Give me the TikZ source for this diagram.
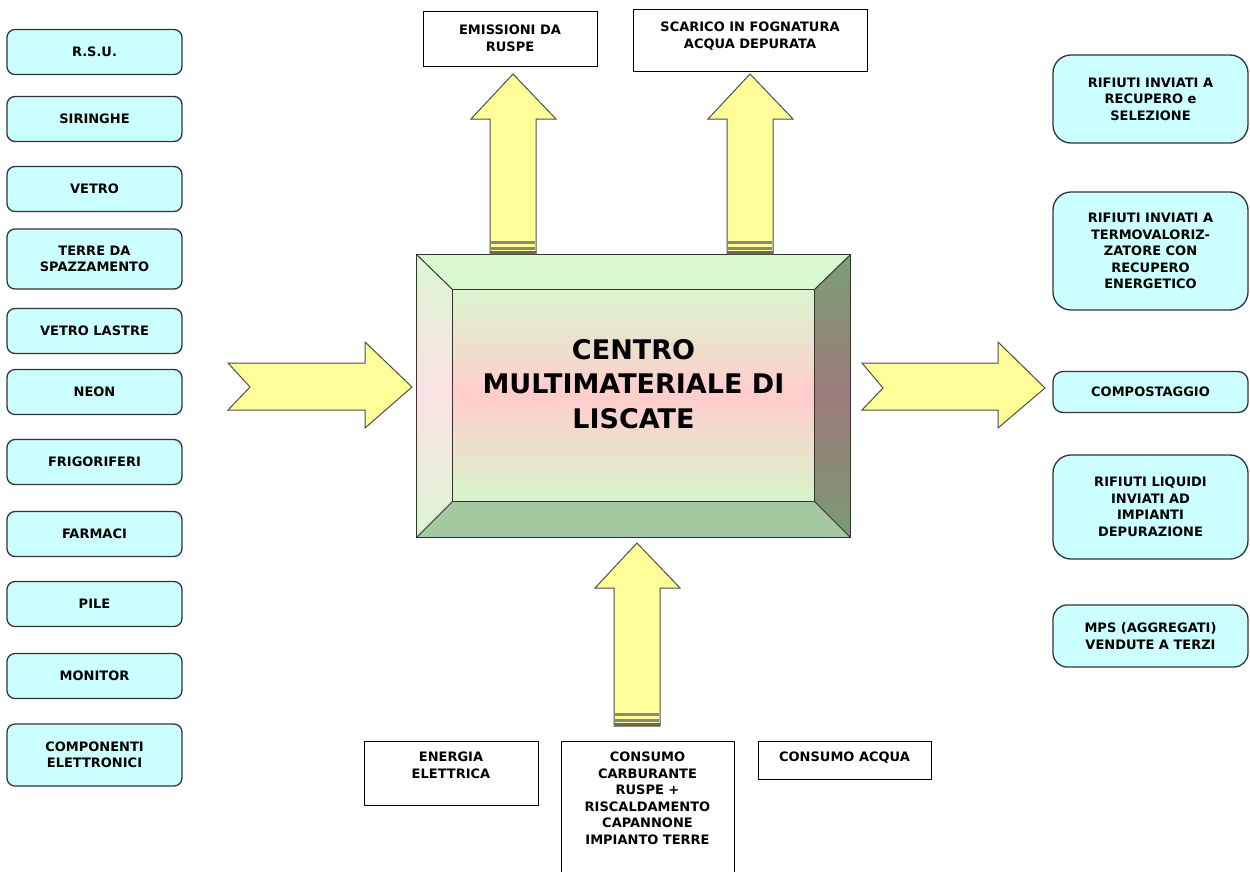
\documentclass[tikz,border=0pt]{standalone}
\usepackage{fontspec}
\setmainfont{DejaVu Sans}
\usetikzlibrary{positioning}
\definecolor{boxcyan}{HTML}{CCFFFF}
\definecolor{boxedge}{HTML}{333333}
\definecolor{arrowyellow}{HTML}{FFFF99}
\definecolor{arrowedge}{HTML}{4D4D4D}
\definecolor{stripegray}{HTML}{8A8A6E}
\definecolor{stripedark}{HTML}{6B6B45}
\definecolor{bevtop}{HTML}{D8F8D0}
\definecolor{bevleftend}{HTML}{DCF8D6}
\definecolor{bevleftmid}{HTML}{FCE2E2}
\definecolor{bevrighttop}{HTML}{7C9E76}
\definecolor{bevrightmid}{HTML}{9C7B7B}
\definecolor{bevrightbot}{HTML}{7A9A74}
\definecolor{bevbottom}{HTML}{A4C8A0}
\definecolor{coretop}{HTML}{DCF5D0}
\definecolor{coremid}{HTML}{FFCCCC}
\definecolor{corebot}{HTML}{D8F5CC}
\newcommand{\lblfont}{\fontsize{13}{16.5}\selectfont\bfseries}
\newcommand{\titlefont}{\fontsize{27}{34.5}\selectfont\bfseries}
% freccia verso l'alto: #1 = x centro, #2 = y punta, #3 = y base
\newcommand{\uparr}[3]{%
  \filldraw[blockarrow] (#1-23,#3) -- (#1-23,#2+45) -- (#1-42,#2+45) -- (#1,#2)
     -- (#1+43,#2+45) -- (#1+23,#2+45) -- (#1+23,#3) -- cycle;
  \draw[stripegray, line width=3pt] (#1-22,#3-12) -- (#1+22,#3-12);
  \draw[stripegray, line width=3pt] (#1-22,#3-6) -- (#1+22,#3-6);
  \fill[stripedark] (#1-23,#3-3) rectangle (#1+23,#3);}
\begin{document}
\begin{tikzpicture}[x=1pt,y=-1pt]
\tikzstyle{inbox} = [draw=boxedge, line width=1.3pt, fill=boxcyan, rounded corners=8pt, minimum width=175pt, minimum height=45pt, align=center, font=\lblfont] % rifiuti in ingresso
\tikzstyle{outbox} = [draw=boxedge, line width=1.3pt, fill=boxcyan, rounded corners=18pt, minimum width=195pt, align=center, font=\lblfont] % destinazioni in uscita
\tikzstyle{wbox} = [draw=black, line width=1pt, fill=white, inner sep=0pt] % riquadri bianchi
\tikzstyle{lbl} = [align=center, font=\lblfont, inner sep=0pt] % testo dei riquadri bianchi
\tikzstyle{blockarrow} = [fill=arrowyellow, draw=arrowedge, line width=1pt, line join=miter] % frecce gialle
\tikzstyle{frame} = [shape=rectangle, inner sep=0pt] % contorni del centro

\useasboundingbox (0,0) rectangle (1250,871);

% ingressi
\node[inbox] (rsu) at (94.5,52) {R.S.U.};
\node[inbox] (siringhe) at (94.5,119) {SIRINGHE};
\node[inbox] (vetro) at (94.5,189) {VETRO};
\node[inbox, minimum height=60pt] (terre) at (94.5,259) {TERRE DA\\SPAZZAMENTO};
\node[inbox] (lastre) at (94.5,331) {VETRO LASTRE};
\node[inbox] (neon) at (94.5,392) {NEON};
\node[inbox] (frigo) at (94.5,462) {FRIGORIFERI};
\node[inbox] (farmaci) at (94.5,534) {FARMACI};
\node[inbox] (pile) at (94.5,604) {PILE};
\node[inbox] (monitor) at (94.5,676) {MONITOR};
\node[inbox, minimum height=62pt] (componenti) at (94.5,755) {COMPONENTI\\ELETTRONICI};

% uscite
\node[outbox, minimum height=88pt] (recupero) at (1150.5,99) {RIFIUTI INVIATI A\\RECUPERO e\\SELEZIONE};
\node[outbox, minimum height=118pt] (termo) at (1150.5,251) {RIFIUTI INVIATI A\\TERMOVALORIZ-\\ZATORE CON\\RECUPERO\\ENERGETICO};
\node[outbox, minimum height=41pt, rounded corners=10pt] (compost) at (1150.5,392) {COMPOSTAGGIO};
\node[outbox, minimum height=104pt] (liquidi) at (1150.5,507) {RIFIUTI LIQUIDI\\INVIATI AD\\IMPIANTI\\DEPURAZIONE};
\node[outbox, minimum height=62pt, rounded corners=14pt] (mps) at (1150.5,636) {MPS (AGGREGATI)\\VENDUTE A TERZI};

% emissioni e consumi
\node[wbox, minimum width=174pt, minimum height=55pt] (emissioni) at (510,38.5) {};
\node[lbl, anchor=north] (emissionitxt) at (emissioni.north |- 0,25) {EMISSIONI DA\\RUSPE};
\node[wbox, minimum width=234pt, minimum height=62pt] (scarico) at (750,40) {};
\node[lbl, anchor=north] (scaricotxt) at (scarico.north |- 0,22) {SCARICO IN FOGNATURA\\ACQUA DEPURATA};
\node[wbox, minimum width=174pt, minimum height=64pt] (energia) at (451,773) {};
\node[lbl, anchor=north] (energiatxt) at (energia.north |- 0,752) {ENERGIA\\ELETTRICA};
\node[wbox, minimum width=173pt, minimum height=135pt] (carburante) at (647.5,808.5) {};
\node[lbl, anchor=north] (carburantetxt) at (carburante.north |- 0,752) {CONSUMO\\CARBURANTE\\RUSPE +\\RISCALDAMENTO\\CAPANNONE\\IMPIANTO TERRE};
\node[wbox, minimum width=173pt, minimum height=38pt] (acqua) at (844.5,760) {};
\node[lbl, anchor=north] (acquatxt) at (acqua.north |- 0,752) {CONSUMO ACQUA};

% centro multimateriale
\node[frame, minimum width=433pt, minimum height=282pt] (centro) at (633.5,396) {};
\node[frame, minimum width=361pt, minimum height=211pt] (nucleo) at (633.5,395.5) {};
\fill[bevtop] (centro.north west) -- (centro.north east) -- (nucleo.north east) -- (nucleo.north west) -- cycle;
\shade[top color=bevleftend, bottom color=bevleftend, middle color=bevleftmid] (centro.north west) -- (nucleo.north west) -- (nucleo.south west) -- (centro.south west) -- cycle;
\shade[top color=bevrighttop, bottom color=bevrightbot, middle color=bevrightmid] (centro.north east) -- (nucleo.north east) -- (nucleo.south east) -- (centro.south east) -- cycle;
\fill[bevbottom] (centro.south west) -- (nucleo.south west) -- (nucleo.south east) -- (centro.south east) -- cycle;
\shade[top color=coretop, bottom color=corebot, middle color=coremid] (nucleo.north west) rectangle (nucleo.south east);
\draw[boxedge, line width=1.3pt] (centro.north west) rectangle (centro.south east);
\draw[boxedge, line width=1.3pt] (nucleo.north west) rectangle (nucleo.south east);
\draw[boxedge, line width=1pt] (centro.north west) -- (nucleo.north west)
  (centro.north east) -- (nucleo.north east)
  (centro.south east) -- (nucleo.south east)
  (centro.south west) -- (nucleo.south west);
\node[align=center, font=\titlefont] (titolo) at (633.5,384) {CENTRO\\MULTIMATERIALE DI\\LISCATE};

% frecce
\uparr{513}{74}{254}
\uparr{750}{74}{254}
\uparr{637}{543}{726}
\filldraw[blockarrow] (228,363) -- (365,363) -- (365,342) -- (412,387) -- (365,428) -- (365,410) -- (228,410) -- (250,387) -- cycle;
\filldraw[blockarrow] (862,363) -- (998,363) -- (998,342) -- (1045,388) -- (998,428) -- (998,410) -- (862,410) -- (883,388) -- cycle;
\end{tikzpicture}
\end{document}
